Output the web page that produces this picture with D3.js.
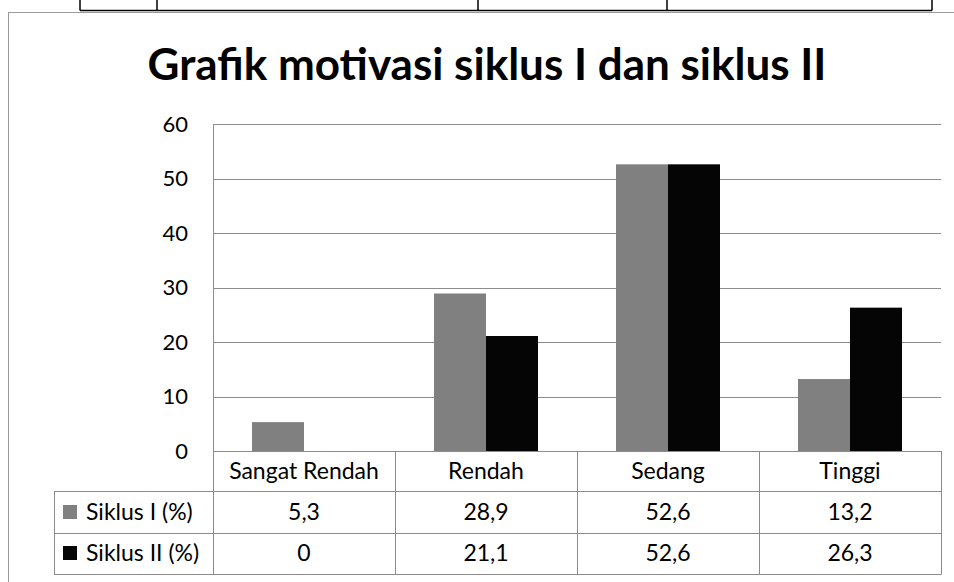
<!DOCTYPE html>
<html>
<head>
<meta charset="utf-8">
<script src="https://cdn.jsdelivr.net/npm/d3@7"></script>
<style>
  body { margin: 0; background: #fff; }
  svg { display: block; font-family: Lato, "Open Sans", sans-serif; }
</style>
</head>
<body>
<script>
// data
let categories = ["Sangat Rendah", "Rendah", "Sedang", "Tinggi"];
let seriesNames = ["Siklus I (%)", "Siklus II (%)"];
let siklus1 = [5.3, 28.9, 52.6, 13.2];
let siklus2 = [0, 21.1, 52.6, 26.3];
let yTicks = [0, 10, 20, 30, 40, 50, 60];
let colors = ["#808080", "#050505"];

let width = 954, height = 582;
let plot = {left: 213, right: 941, top: 124, bottom: 451};
let rowH = 41.5;
let tableFont = 23;

let svg = d3.select("body").append("svg")
    .attr("width", width)
    .attr("height", height);

// bits of the table above the chart (previous page content)
svg.append("line")
    .attr("x1", 80).attr("x2", 932).attr("y1", 10.5).attr("y2", 10.5)
    .attr("stroke", "#000").attr("stroke-width", 1.5);
[80, 157, 478, 667, 932].forEach(function(x) {
    svg.append("line")
        .attr("x1", x).attr("x2", x).attr("y1", 0).attr("y2", 10.5)
        .attr("stroke", "#000").attr("stroke-width", 1.5);
});

// chart frame
svg.append("rect")
    .attr("x", 8.5).attr("y", 12.5)
    .attr("width", 960).attr("height", 600)
    .attr("fill", "none").attr("stroke", "#9a9a9a").attr("stroke-width", 1);

// title
svg.append("text")
    .attr("x", 487).attr("y", 80)
    .attr("text-anchor", "middle")
    .attr("font-weight", "bold")
    .attr("font-size", 44)
    .attr("fill", "#000")
    .text("Grafik motivasi siklus I dan siklus II");

let x0 = d3.scaleBand().domain(categories).range([plot.left, plot.right]).padding(0);
let x1 = d3.scaleBand().domain(seriesNames).range([0, x0.bandwidth()])
    .paddingInner(0).paddingOuter(0.75);
let y = d3.scaleLinear().domain([0, 60]).range([plot.bottom, plot.top]);

// gridlines
svg.append("g")
    .selectAll("line")
    .data(yTicks)
    .enter().append("line")
    .attr("x1", plot.left).attr("x2", plot.right)
    .attr("y1", function(d) { return Math.round(y(d)) + 0.5; })
    .attr("y2", function(d) { return Math.round(y(d)) + 0.5; })
    .attr("stroke", "#8c8c8c").attr("stroke-width", 1);

// y axis labels
let yAxis = svg.append("g")
    .attr("transform", "translate(" + plot.left + ",0)")
    .call(d3.axisLeft(y).tickValues(yTicks).tickSize(0).tickPadding(25));
yAxis.select(".domain").remove();
yAxis.selectAll("text")
    .attr("font-family", "Lato, sans-serif")
    .attr("font-size", 22)
    .attr("fill", "#000");

// bars
let seriesVals = [siklus1, siklus2];
seriesNames.forEach(function(s, i) {
    svg.append("g")
        .selectAll("rect")
        .data(categories)
        .enter().append("rect")
        .attr("x", function(d) { return x0(d) + x1(s); })
        .attr("width", x1.bandwidth())
        .attr("y", function(d, j) { return y(seriesVals[i][j]); })
        .attr("height", function(d, j) { return y(0) - y(seriesVals[i][j]); })
        .attr("fill", colors[i]);
});

// data table
let tableLeft = 54;
let lineColor = "#8c8c8c";
let tbl = svg.append("g").attr("stroke", lineColor).attr("stroke-width", 1);

// horizontal lines
tbl.append("line")
    .attr("x1", plot.left).attr("x2", plot.right)
    .attr("y1", plot.bottom + 0.5).attr("y2", plot.bottom + 0.5);
[1, 2, 3].forEach(function(r) {
    let yy = Math.round(plot.bottom + 40 + (r - 1) * rowH) + 0.5;
    tbl.append("line")
        .attr("x1", tableLeft).attr("x2", plot.right)
        .attr("y1", yy).attr("y2", yy);
});
let tableBottom = Math.round(plot.bottom + 40 + 2 * rowH) + 0.5;
let row1Top = plot.bottom + 40.5;

// vertical lines
tbl.append("line")
    .attr("x1", tableLeft + 0.5).attr("x2", tableLeft + 0.5)
    .attr("y1", row1Top).attr("y2", tableBottom);
tbl.append("line")
    .attr("x1", plot.left + 0.5).attr("x2", plot.left + 0.5)
    .attr("y1", plot.top).attr("y2", tableBottom);
categories.forEach(function(c) {
    let xx = Math.round(x0(c) + x0.bandwidth()) + 0.5;
    tbl.append("line")
        .attr("x1", xx).attr("x2", xx)
        .attr("y1", plot.bottom).attr("y2", tableBottom);
});

// category labels
svg.append("g")
    .selectAll("text")
    .data(categories)
    .enter().append("text")
    .attr("x", function(d) { return x0(d) + x0.bandwidth() / 2; })
    .attr("y", plot.bottom + 28)
    .attr("text-anchor", "middle")
    .attr("font-size", tableFont)
    .text(function(d) { return d; });

// series rows
seriesNames.forEach(function(s, i) {
    let top = row1Top + i * rowH;
    svg.append("rect")
        .attr("x", 63).attr("y", Math.round(top + 13))
        .attr("width", 14).attr("height", 14)
        .attr("fill", colors[i]);
    svg.append("text")
        .attr("x", 86).attr("y", top + 28)
        .attr("font-size", tableFont)
        .text(s);
    svg.append("g")
        .selectAll("text")
        .data(seriesVals[i])
        .enter().append("text")
        .attr("x", function(d, j) { return x0(categories[j]) + x0.bandwidth() / 2; })
        .attr("y", top + 28)
        .attr("text-anchor", "middle")
        .attr("font-size", tableFont)
        .text(function(d) { return String(d).replace(".", ","); });
});
</script>
</body>
</html>
